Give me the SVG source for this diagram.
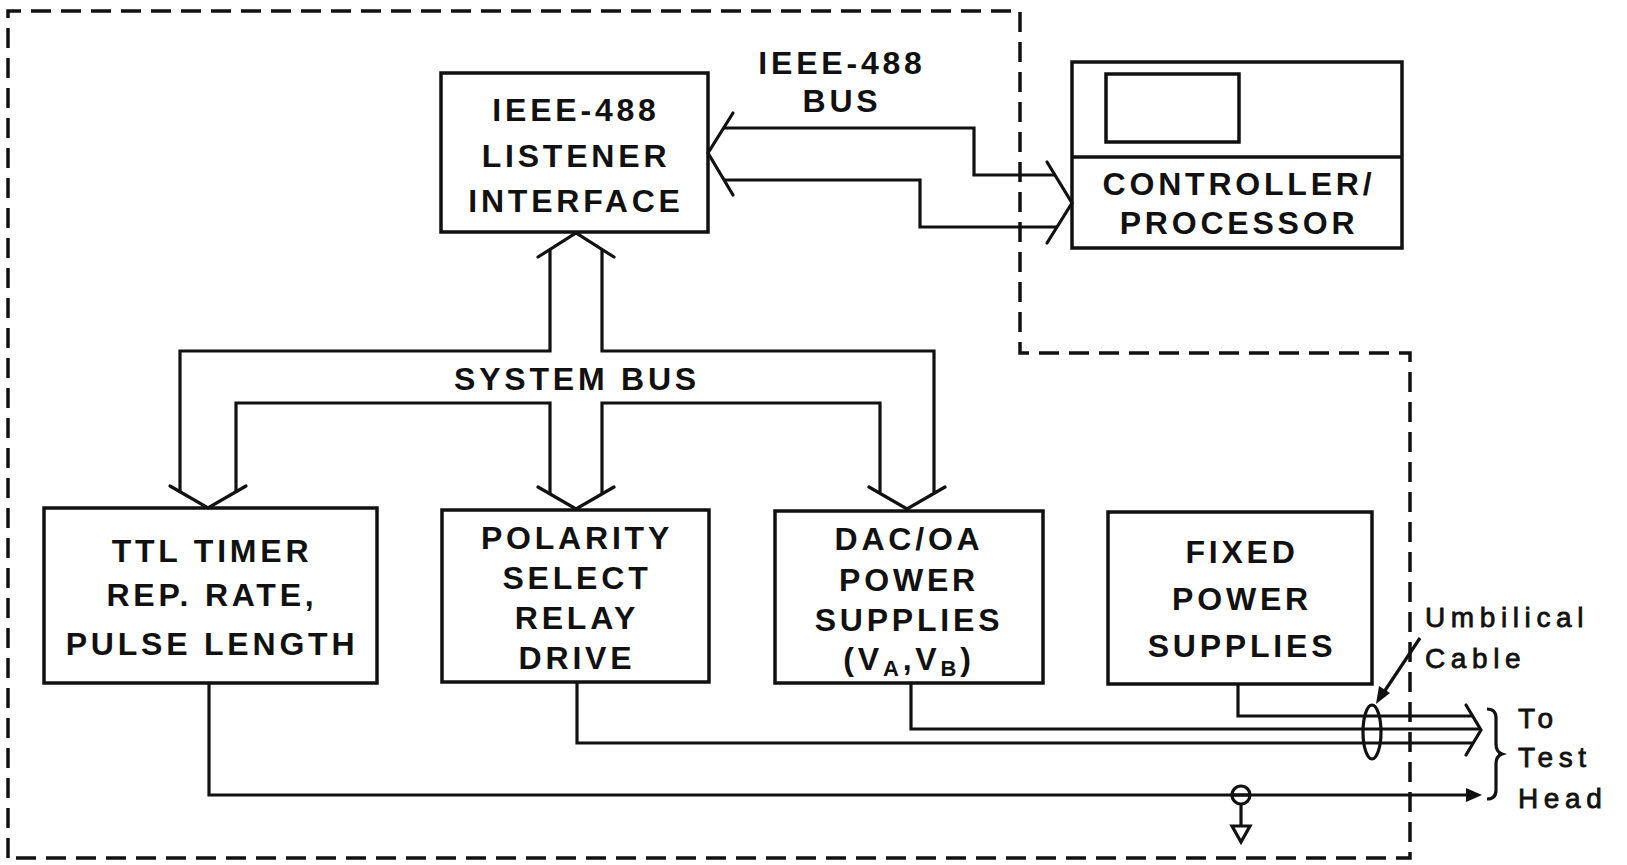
<svg xmlns="http://www.w3.org/2000/svg" width="1627" height="865" viewBox="0 0 1627 865">
<style>
.box{fill:none;stroke:#111;stroke-width:3.5}
.ln{fill:none;stroke:#111;stroke-width:3.2;stroke-linejoin:miter}
.ch{fill:none;stroke:#111;stroke-width:3.2;stroke-linecap:round;stroke-linejoin:miter}
.dash{fill:none;stroke:#111;stroke-width:3.5;stroke-dasharray:20 10}
.t{font-family:"Liberation Sans",Arial,sans-serif;font-weight:bold;font-size:32px;letter-spacing:3.8px;fill:#111;text-anchor:middle}
.r{font-family:"Liberation Sans",Arial,sans-serif;font-size:28px;letter-spacing:5.6px;fill:#111;stroke:#111;stroke-width:0.8px}
.fill{fill:#111;stroke:none}
</style>
<rect width="1627" height="865" fill="#fff"/>

<g id="enclosure">
<path class="dash" d="M8,858 V11 H1020 V353 H1410 V858 Z"/>
</g>

<g id="listener">
<rect class="box" x="441" y="73" width="267" height="159"/>
<text class="t" x="576" y="121">IEEE-488</text>
<text class="t" x="576" y="167">LISTENER</text>
<text class="t" x="576" y="212">INTERFACE</text>
</g>

<g id="controller">
<rect class="box" x="1072" y="62" width="330" height="186"/>
<line class="box" x1="1072" y1="157" x2="1402" y2="157"/>
<rect class="box" x="1106" y="74" width="133" height="68"/>
<text class="t" x="1239" y="195">CONTROLLER/</text>
<text class="t" x="1239" y="234">PROCESSOR</text>
</g>

<g id="ttl">
<rect class="box" x="44" y="508" width="333" height="175"/>
<text class="t" x="212" y="562">TTL TIMER</text>
<text class="t" x="212" y="606">REP. RATE,</text>
<text class="t" x="212" y="655">PULSE LENGTH</text>
</g>

<g id="polarity">
<rect class="box" x="442" y="510" width="267" height="172"/>
<text class="t" x="577" y="549">POLARITY</text>
<text class="t" x="577" y="589">SELECT</text>
<text class="t" x="577" y="629">RELAY</text>
<text class="t" x="577" y="669">DRIVE</text>
</g>

<g id="dac">
<rect class="box" x="775" y="511" width="268" height="172"/>
<text class="t" x="909" y="550">DAC/OA</text>
<text class="t" x="909" y="591">POWER</text>
<text class="t" x="909" y="631">SUPPLIES</text>
<text class="t" x="909" y="670">(V<tspan font-size="22" dy="6">A</tspan><tspan dy="-6">,V</tspan><tspan font-size="22" dy="6">B</tspan><tspan dy="-6">)</tspan></text>
</g>

<g id="fixed">
<rect class="box" x="1108" y="512" width="264" height="172"/>
<text class="t" x="1242" y="563">FIXED</text>
<text class="t" x="1242" y="610">POWER</text>
<text class="t" x="1242" y="657">SUPPLIES</text>
</g>

<g id="labels">
<text class="t" x="842" y="74">IEEE-488</text>
<text class="t" x="842" y="112">BUS</text>
<text class="t" x="577" y="390" letter-spacing="4.5">SYSTEM BUS</text>
<text class="r" x="1425" y="627">Umbilical</text>
<text class="r" x="1425" y="668">Cable</text>
<text class="r" x="1518" y="728">To</text>
<text class="r" x="1518" y="767">Test</text>
<text class="r" x="1518" y="808">Head</text>
</g>

<g id="connectors">
<path class="ln" d="M724,128 H974 V175 H1056"/>
<path class="ln" d="M724,180 H920 V227 H1057"/>
<polyline class="ch" points="733,113 708,153 733,195"/>
<polyline class="ch" points="1047,162 1072,203 1047,243"/>
<path class="ln" d="M550,249 V351 H180 V492"/>
<path class="ln" d="M602,249 V351 H934 V492"/>
<path class="ln" d="M236,492 V403 H550 V493"/>
<path class="ln" d="M880,492 V403 H602 V493"/>
<polyline class="ch" points="538,257 576,233 614,257"/>
<polyline class="ch" points="170,486 208,508 246,486"/>
<polyline class="ch" points="538,487 576,509 614,487"/>
<polyline class="ch" points="869,487 907,509 945,487"/>
<path class="ln" d="M1238,684 V716 H1472"/>
<path class="ln" d="M911,683 V729 H1479"/>
<path class="ln" d="M577,682 V743 H1473"/>
<polyline class="ch" points="1466,705 1481,730 1466,755"/>
<ellipse class="ln" cx="1372" cy="732" rx="9" ry="27"/>
<path class="ln" d="M209,683 V795 H1470"/>
<polygon class="fill" points="1466,788 1482,795 1466,802"/>
<circle class="ln" cx="1241" cy="795" r="9" fill="#fff"/>
<line class="ln" x1="1232" y1="795" x2="1250" y2="795"/>
<line class="ln" x1="1241" y1="804" x2="1241" y2="826"/>
<polygon class="ln" points="1232,826 1250,826 1241,842"/>
<line class="ln" x1="1420" y1="638" x2="1384" y2="692"/>
<polygon class="fill" points="1376,704 1379,686 1390,693"/>
<path class="ln" d="M1487,709 Q1496,709 1496,718 V744 Q1496,752 1502,754 Q1496,756 1496,764 V790 Q1496,799 1487,799"/>
</g>
</svg>
